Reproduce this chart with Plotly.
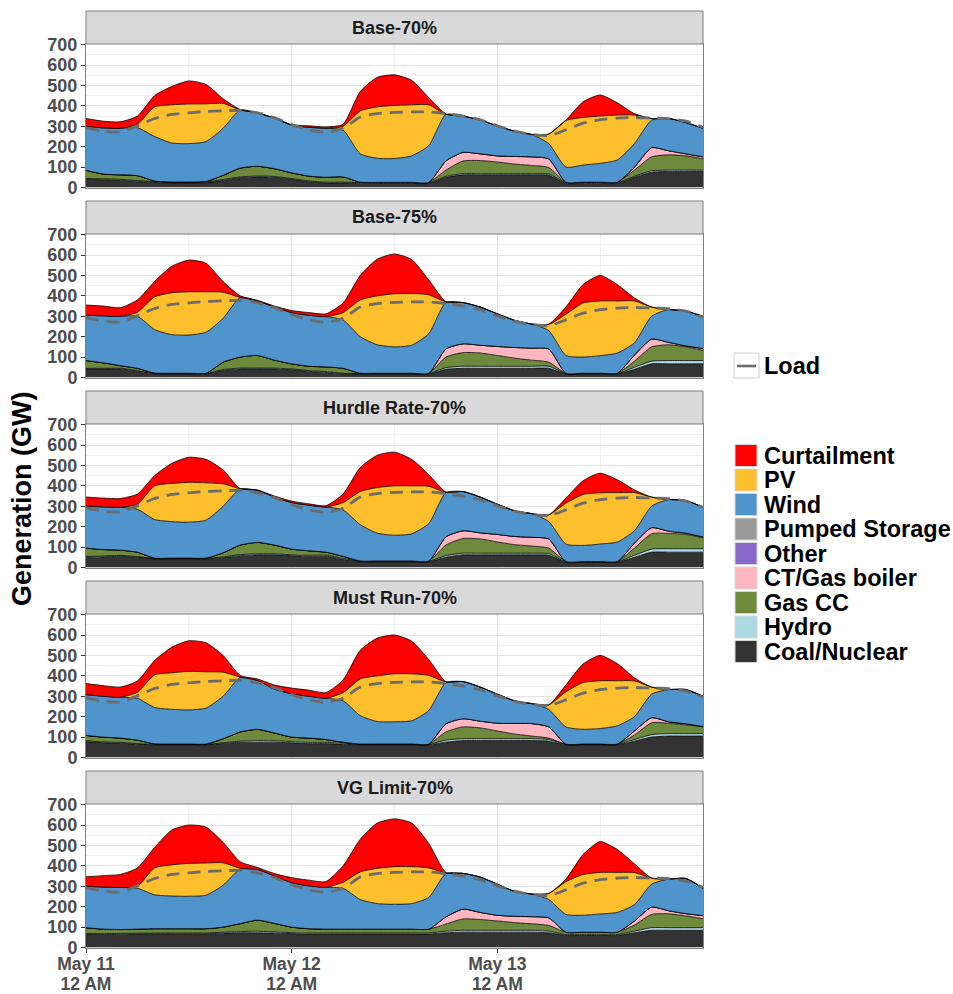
import plotly.graph_objects as go
from plotly.subplots import make_subplots

# ---------------- data (GW), every 2 hours from May 11 12 AM ----------------
hours = [0, 2, 4, 6, 8, 10, 12, 14, 16, 18, 20, 22, 24, 26, 28, 30, 32, 34, 36,
         38, 40, 42, 44, 46, 48, 50, 52, 54, 56, 58, 60, 62, 64, 66, 68, 70, 72]
tick_vals = [0, 24, 48]
tick_day = ["May 11", "May 12", "May 13"]
tick_time = ["12 AM", "12 AM", "12 AM"]
scenarios = ["Base-70%", "Base-75%", "Hurdle Rate-70%", "Must Run-70%", "VG Limit-70%"]

load = [294, 276, 272, 302, 338, 358, 366, 372, 376, 378, 366, 342, 308, 282, 270, 290, 345, 362, 368,
        370, 370, 362, 350, 332, 302, 276, 260, 254, 282, 315, 332, 340, 343, 340, 337, 325, 295]

other = [0, 0, 0, 0, 0, 0, 0, 0, 0, 0, 0, 0, 0, 0, 0, 0, 0, 0, 0,
         0, 0, 0, 0, 0, 0, 0, 0, 0, 0, 0, 0, 0, 0, 0, 0, 0, 0]
pumped = [0, 0, 0, 0, 0, 0, 0, 0, 0, 0, 0, 0, 0, 0, 0, 0, 0, 0, 0,
          0, 0, 0, 0, 0, 0, 0, 0, 0, 0, 0, 0, 0, 0, 0, 0, 0, 0]
ct_zero_day = [0, 0, 0, 0, 0, 0, 0, 0, 0, 0, 0, 0, 0, 0, 0, 0, 0, 0, 0, 0, 0]

# Base-70%
coal_b70 = [40, 38, 36, 30, 25, 22, 22, 24, 35, 48, 52, 50, 40, 28, 22, 22, 20, 20, 20,
            20, 20, 50, 62, 62, 62, 62, 62, 60, 20, 20, 20, 20, 50, 75, 78, 78, 78]
hydro_b70 = [4, 4, 4, 4, 3, 3, 3, 3, 4, 4, 4, 4, 4, 4, 4, 4, 4, 3, 3,
             3, 3, 5, 6, 6, 6, 6, 6, 6, 4, 4, 4, 4, 5, 7, 7, 7, 7]
gascc_b70 = [40, 24, 22, 24, 4, 2, 2, 3, 21, 43, 48, 38, 28, 24, 24, 26, 2, 2, 2,
             2, 2, 30, 62, 64, 57, 47, 40, 32, 2, 2, 2, 2, 30, 68, 75, 70, 55]
ct_b70 = ct_zero_day + [45, 42, 33, 30, 37, 42, 42, 0, 0, 0, 0, 15, 45, 20, 10, 10]
wind_b70 = [216, 226, 228, 235, 218, 191, 188, 195, 230, 285, 261, 248, 233, 239, 240, 229, 139, 118, 117,
            130, 180, 228, 178, 165, 147, 124, 110, 75, 74, 84, 92, 109, 115, 135, 158, 153, 140]
pv_b70 = [0, 0, 0, 17, 145, 187, 194, 185, 122, 0, 0, 0, 0, 0, 0, 19, 210, 252, 260,
          250, 200, 0, 0, 0, 0, 0, 0, 47, 228, 233, 232, 220, 140, 8, 0, 0, 0]
curt_b70 = [38, 33, 32, 40, 55, 90, 113, 95, 23, 2, 0, 0, 3, 7, 7, 10, 95, 145, 150,
            120, 35, 2, 0, 0, 0, 0, 0, 0, 2, 77, 103, 60, 7, 0, 0, 0, 0]

# Base-75%
coal_b75 = [42, 42, 42, 30, 18, 17, 17, 17, 35, 42, 42, 42, 38, 30, 25, 18, 17, 17, 17,
            17, 17, 40, 45, 45, 45, 45, 45, 45, 17, 17, 17, 17, 40, 67, 67, 67, 67]
hydro_b75 = [3, 3, 3, 3, 2, 2, 2, 2, 4, 4, 4, 4, 4, 4, 4, 3, 2, 2, 2,
             2, 2, 8, 10, 10, 10, 10, 10, 10, 2, 2, 2, 2, 10, 13, 16, 16, 16]
gascc_b75 = [38, 27, 13, 12, 2, 2, 2, 2, 36, 54, 62, 39, 25, 21, 23, 24, 2, 2, 2,
             2, 2, 52, 67, 65, 53, 40, 30, 20, 2, 2, 2, 2, 30, 70, 77, 67, 50]
ct_b75 = ct_zero_day + [40, 43, 38, 44, 52, 59, 65, 0, 0, 0, 0, 30, 38, 12, 5, 9]
wind_b75 = [222, 230, 242, 255, 213, 189, 187, 201, 215, 292, 267, 260, 251, 250, 246, 237, 179, 139, 129,
            137, 194, 228, 202, 187, 160, 133, 118, 90, 87, 79, 86, 99, 60, 112, 161, 170, 158]
pv_b75 = [0, 0, 0, 20, 160, 205, 212, 198, 128, 0, 0, 0, 0, 0, 0, 36, 180, 240, 260,
          254, 190, 2, 0, 0, 0, 0, 0, 30, 202, 265, 268, 255, 205, 45, 0, 0, 0]
curt_b75 = [50, 48, 42, 60, 75, 130, 155, 140, 52, 8, 3, 5, 10, 13, 14, 47, 120, 180, 195,
            166, 73, 2, 0, 0, 0, 0, 0, 2, 35, 90, 125, 80, 15, 0, 0, 0, 0]

# Hurdle Rate-70%
coal_hr = [50, 52, 55, 50, 42, 42, 42, 42, 48, 58, 62, 62, 58, 55, 55, 40, 28, 28, 28,
           28, 28, 50, 62, 62, 62, 62, 62, 60, 25, 25, 25, 25, 50, 75, 75, 75, 75]
hydro_hr = [4, 4, 4, 3, 2, 2, 2, 2, 4, 5, 5, 5, 4, 5, 5, 5, 2, 2, 2,
            2, 2, 8, 8, 8, 8, 8, 8, 8, 2, 2, 2, 2, 10, 15, 17, 17, 17]
gascc_hr = [41, 32, 26, 22, 2, 2, 2, 2, 20, 47, 56, 43, 28, 22, 15, 10, 2, 2, 2,
            2, 2, 52, 72, 70, 55, 42, 35, 27, 2, 2, 2, 2, 35, 75, 75, 70, 53]
ct_hr = ct_zero_day + [40, 38, 30, 37, 40, 43, 45, 0, 0, 0, 0, 25, 30, 11, 6, 5]
wind_hr = [205, 209, 210, 210, 189, 179, 176, 186, 228, 275, 255, 235, 228, 223, 221, 227, 178, 136, 126,
           133, 183, 217, 192, 175, 148, 126, 116, 85, 86, 79, 86, 96, 60, 105, 155, 160, 145]
pv_hr = [0, 0, 0, 25, 165, 187, 195, 183, 110, 0, 0, 0, 0, 0, 0, 36, 162, 224, 242,
         235, 183, 1, 0, 0, 0, 0, 0, 33, 200, 250, 251, 242, 187, 45, 0, 0, 0]
curt_hr = [45, 43, 43, 50, 50, 98, 123, 115, 68, 1, 2, 5, 7, 7, 7, 42, 118, 158, 165,
           130, 57, 2, 0, 0, 0, 0, 0, 0, 25, 67, 96, 63, 13, 0, 0, 0, 0]

# Must Run-70%
coal_mr = [78, 72, 70, 65, 62, 62, 62, 62, 68, 75, 75, 75, 72, 68, 68, 65, 62, 62, 62,
           62, 62, 75, 83, 83, 83, 83, 83, 80, 62, 62, 62, 62, 80, 100, 105, 105, 105]
hydro_mr = [4, 4, 4, 3, 3, 2, 2, 2, 4, 5, 8, 7, 6, 6, 6, 5, 2, 2, 2,
            2, 2, 10, 9, 9, 9, 9, 9, 8, 2, 2, 2, 2, 8, 12, 12, 12, 12]
gascc_mr = [26, 24, 21, 17, 2, 2, 2, 2, 20, 45, 55, 38, 22, 21, 14, 5, 2, 2, 2,
            2, 2, 40, 58, 53, 38, 23, 13, 7, 2, 2, 2, 2, 22, 58, 51, 43, 33]
ct_mr = ct_zero_day + [40, 40, 33, 38, 52, 61, 55, 0, 0, 0, 0, 20, 25, 7, 5, 2]
wind_mr = [200, 200, 200, 205, 178, 170, 167, 176, 208, 267, 239, 215, 212, 205, 202, 203, 139, 110, 109,
           114, 164, 202, 182, 167, 142, 111, 98, 85, 84, 72, 76, 89, 70, 115, 158, 168, 148]
pv_mr = [0, 0, 0, 30, 160, 179, 189, 178, 118, 2, 0, 0, 0, 0, 0, 40, 180, 224, 235,
         230, 172, 3, 0, 0, 0, 0, 0, 23, 172, 229, 234, 221, 175, 35, 0, 0, 0]
curt_mr = [54, 52, 50, 55, 70, 125, 150, 142, 82, 8, 8, 20, 28, 30, 28, 62, 140, 185, 190,
           160, 78, 2, 0, 0, 0, 0, 0, 0, 33, 91, 124, 84, 15, 0, 0, 0, 0]

# VG Limit-70%
coal_vg = [64, 64, 65, 66, 67, 67, 67, 67, 70, 72, 72, 70, 68, 66, 66, 66, 66, 66, 66,
           66, 66, 72, 75, 75, 75, 75, 75, 72, 59, 59, 59, 59, 72, 84, 84, 84, 84]
hydro_vg = [4, 4, 4, 4, 4, 4, 4, 4, 5, 6, 8, 6, 5, 5, 5, 5, 5, 5, 5,
            5, 5, 8, 9, 9, 9, 9, 9, 8, 4, 4, 4, 4, 8, 13, 13, 13, 13]
gascc_vg = [29, 22, 19, 20, 21, 21, 21, 21, 25, 39, 54, 42, 27, 21, 19, 19, 19, 19, 19,
            19, 19, 35, 56, 53, 46, 38, 32, 28, 12, 12, 12, 12, 30, 65, 68, 58, 44]
ct_vg = ct_zero_day + [35, 48, 35, 28, 31, 35, 37, 0, 0, 0, 0, 20, 36, 15, 11, 15]
wind_vg = [203, 206, 206, 200, 166, 160, 159, 164, 205, 267, 248, 232, 218, 210, 205, 200, 145, 125, 122,
           125, 155, 212, 175, 173, 152, 122, 111, 90, 87, 83, 89, 97, 80, 112, 155, 172, 134]
pv_vg = [0, 0, 0, 10, 132, 153, 161, 158, 110, 4, 0, 0, 0, 0, 0, 30, 135, 173, 184,
         181, 145, 3, 0, 0, 0, 0, 0, 30, 160, 200, 204, 196, 157, 30, 0, 0, 0]
curt_vg = [46, 56, 64, 90, 100, 170, 188, 176, 100, 32, 10, 12, 24, 28, 28, 80, 160, 222, 234,
           214, 120, 3, 0, 0, 0, 0, 0, 0, 13, 97, 151, 112, 43, 0, 0, 0, 0]

panels = [
    [coal_b70, hydro_b70, gascc_b70, ct_b70, other, pumped, wind_b70, pv_b70, curt_b70],
    [coal_b75, hydro_b75, gascc_b75, ct_b75, other, pumped, wind_b75, pv_b75, curt_b75],
    [coal_hr, hydro_hr, gascc_hr, ct_hr, other, pumped, wind_hr, pv_hr, curt_hr],
    [coal_mr, hydro_mr, gascc_mr, ct_mr, other, pumped, wind_mr, pv_mr, curt_mr],
    [coal_vg, hydro_vg, gascc_vg, ct_vg, other, pumped, wind_vg, pv_vg, curt_vg],
]
series_names = ["Coal/Nuclear", "Hydro", "Gas CC", "CT/Gas boiler", "Other",
                "Pumped Storage", "Wind", "PV", "Curtailment"]
series_colors = ["#333333", "#add8e6", "#6e8b3d", "#ffb6c1", "#8968cd",
                 "#999999", "#4f94cd", "#fdbf2b", "#ff0000"]

# ---------------- figure ----------------
W, H = 953, 994
FONT = "Liberation Sans, Arial, sans-serif"
plot_tops = [44, 234, 424, 614, 804]
plot_h = 143.5
strip_h = 33
x0px, x1px = 86, 703
TICKFONT = dict(family=FONT, size=18, color="#4d4d4d", weight="bold")
XTICKFONT = dict(family=FONT, size=17.5, color="#4d4d4d", weight="bold")

fig = make_subplots(rows=5, cols=1, shared_xaxes=True, vertical_spacing=0.02)

for k, comps in enumerate(panels):
    for name, vals, col in zip(series_names, comps, series_colors):
        fig.add_trace(go.Scatter(
            x=hours, y=vals, name=name, stackgroup=f"s{k}", mode="lines",
            line=dict(color="black", width=0.8, shape="spline", smoothing=0.6),
            fillcolor=col, showlegend=False, hoverinfo="skip"), row=k + 1, col=1)
    fig.add_trace(go.Scatter(
        x=hours, y=load, name="Load", mode="lines",
        line=dict(color="#6b6b6b", width=2.8, dash="13px,8px", shape="spline", smoothing=0.6),
        showlegend=False, hoverinfo="skip"), row=k + 1, col=1)

shapes = []
annotations = []
for k in range(5):
    top = plot_tops[k]
    bot = top + plot_h
    sfx = "" if k == 0 else str(k + 1)
    fig.layout["yaxis" + sfx].update(
        domain=[1 - bot / H, 1 - top / H], range=[0, 703], automargin=False,
        tickvals=[0, 100, 200, 300, 400, 500, 600, 700],
        ticks="outside", ticklen=4, tickcolor="#333333", tickwidth=1,
        tickfont=TICKFONT,
        showgrid=True, gridcolor="#e2e2e2", gridwidth=1.3, zeroline=False,
        minor=dict(dtick=50, showgrid=True, gridcolor="#f1f1f1", gridwidth=0.8),
        showline=True, mirror=True, linecolor="#7f7f7f", linewidth=1)
    fig.layout["xaxis" + sfx].update(
        domain=[x0px / W, x1px / W], range=[0, 72], automargin=False,
        tickvals=tick_vals, ticktext=tick_day,
        showticklabels=(k == 4), ticks="outside" if k == 4 else "",
        ticklen=4, tickcolor="#333333", ticklabelstandoff=-4,
        tickfont=XTICKFONT,
        showgrid=True, gridcolor="#e2e2e2", gridwidth=1.3, zeroline=False,
        minor=dict(tickvals=[12, 36, 60], showgrid=True, gridcolor="#f1f1f1", gridwidth=0.8),
        showline=True, mirror=True, linecolor="#7f7f7f", linewidth=1)
    # facet strip
    shapes.append(dict(type="rect", xref="paper", yref="paper",
                       x0=x0px / W, x1=x1px / W, y0=1 - top / H, y1=1 - (top - strip_h) / H,
                       fillcolor="#d9d9d9", line=dict(color="#7f7f7f", width=1)))
    annotations.append(dict(xref="paper", yref="paper", x=(x0px + x1px) / 2 / W,
                            y=1 - (top - strip_h / 2) / H, text=scenarios[k], showarrow=False,
                            xanchor="center", yanchor="middle",
                            font=dict(family=FONT, size=18, color="#1a1a1a", weight="bold")))

# second line of the time-axis labels ("12 AM") on an overlaying axis of the bottom panel
fig.add_trace(go.Scatter(x=[], y=[], xaxis="x6", yaxis="y5", showlegend=False, hoverinfo="skip"))
fig.update_layout(xaxis6=dict(
    overlaying="x5", anchor="y5", side="bottom", domain=[x0px / W, x1px / W],
    range=[0, 72], automargin=False, tickvals=tick_vals, ticktext=tick_time,
    ticks="", ticklen=4, ticklabelstandoff=24, tickfont=XTICKFONT,
    showgrid=False, showline=False, zeroline=False))

# y-axis title
annotations.append(dict(xref="paper", yref="paper", x=22 / W, y=1 - 499 / H,
                        text="Generation (GW)", textangle=-90, showarrow=False,
                        xanchor="center", yanchor="middle",
                        font=dict(family=FONT, size=27, color="black", weight="bold")))

# legend: Load
LEG_FONT = dict(family=FONT, size=23.5, color="black", weight="bold")
shapes.append(dict(type="rect", xref="paper", yref="paper",
                   x0=734 / W, x1=759 / W, y0=1 - 378 / H, y1=1 - 353 / H,
                   fillcolor="white", line=dict(color="#d0d0d0", width=1)))
shapes.append(dict(type="line", xref="paper", yref="paper",
                   x0=737 / W, x1=756 / W, y0=1 - 366 / H, y1=1 - 366 / H,
                   line=dict(color="#6b6b6b", width=2.6)))
annotations.append(dict(xref="paper", yref="paper", x=762 / W, y=1 - 366 / H,
                        text="Load", showarrow=False, xanchor="left", yanchor="middle",
                        font=LEG_FONT))

# legend: generation types (top to bottom, reverse of stacking)
leg_top = 455.5
leg_step = 24.5
for j, (name, col) in enumerate(zip(series_names[::-1], series_colors[::-1])):
    yc = leg_top + j * leg_step
    shapes.append(dict(type="rect", xref="paper", yref="paper",
                       x0=735 / W, x1=757 / W, y0=1 - (yc + 11) / H, y1=1 - (yc - 11) / H,
                       fillcolor=col, line=dict(color="#d6d6d6", width=1)))
    annotations.append(dict(xref="paper", yref="paper", x=762 / W, y=1 - yc / H,
                            text=name, showarrow=False, xanchor="left", yanchor="middle",
                            font=LEG_FONT))

fig.update_layout(width=W, height=H,
                  margin=dict(l=0, r=0, t=0, b=0, pad=0, autoexpand=False),
                  paper_bgcolor="white", plot_bgcolor="white",
                  showlegend=False, shapes=shapes, annotations=annotations,
                  font=dict(family=FONT))

fig.write_html("out.html")
